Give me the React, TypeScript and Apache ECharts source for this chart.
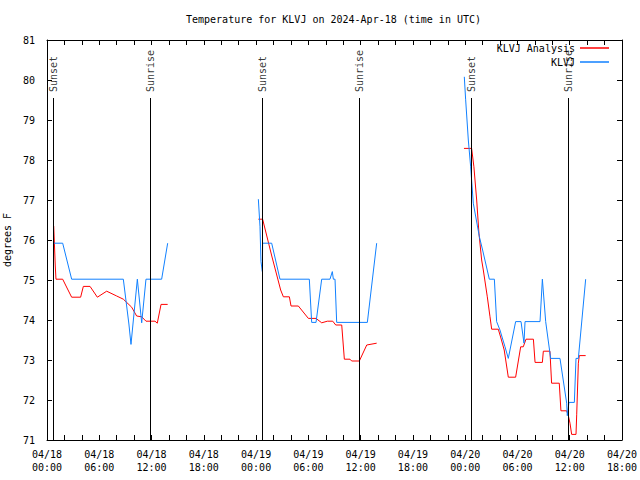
import React, { useEffect, useRef } from 'react';
import * as echarts from 'echarts';

// hours since 04/18 00:00 UTC, temperature (°F); '-' breaks the line
const analysisData: (number | string)[][] = [
  [0.77, 76.35], [0.95, 75.35], [1.03, 75.02], [1.8, 75.02], [2.3, 74.8], [2.83, 74.57], [3.86, 74.57],
  [4.17, 74.84], [4.94, 74.84], [5.78, 74.57], [6.85, 74.72], [8.0, 74.6], [8.76, 74.52], [9.72, 74.32],
  [10.29, 74.1], [10.87, 74.08], [11.36, 73.97], [12.4, 73.97], [12.66, 73.92], [13.09, 74.39], [13.85, 74.39],
  [14.5, '-'],
  [24.26, 76.52], [24.75, 76.52], [25.8, 75.6], [26.82, 74.75], [27.13, 74.58], [27.82, 74.58], [28.01, 74.35],
  [28.85, 74.35], [30.0, 74.04], [30.88, 74.04], [31.53, 73.93], [32.18, 73.97], [32.8, 73.97],
  [33.14, 73.875], [33.83, 73.875], [34.13, 73.02], [34.78, 73.02], [34.97, 72.975], [35.85, 72.975],
  [36.7, 73.375], [37.84, 73.42],
  [40, '-'],
  [47.86, 78.29], [48.74, 78.29], [49.0, 77.83], [49.32, 77.0], [49.58, 76.17], [49.89, 75.5], [50.08, 75.25],
  [50.54, 74.58], [50.85, 74.08], [51.04, 73.77], [51.8, 73.77], [52.1, 73.55], [52.48, 73.25], [52.95, 72.57],
  [53.79, 72.57], [54.37, 73.33], [54.67, 73.33], [54.98, 73.52], [55.83, 73.52], [56.02, 72.94], [56.86, 72.94],
  [56.97, 73.22], [57.73, 73.22], [57.92, 72.42], [58.8, 72.42], [58.99, 71.73], [59.65, 71.73], [59.85, 71.6],
  [60.03, 71.42], [60.22, 71.14], [60.72, 71.14], [60.8, 71.63], [60.99, 72.92], [61.1, 73.11], [61.83, 73.11],
];

const observedData: (number | string)[][] = [
  [0.77, 75.92], [1.8, 75.92], [2.83, 75.02], [8.76, 75.02], [9.4, 73.9], [9.64, 73.39], [10.37, 75.02],
  [10.87, 73.93], [11.36, 75.02], [13.16, 75.02], [13.85, 75.92],
  [14.5, '-'],
  [24.26, 77.02], [24.45, 76.33], [24.56, 75.46], [24.72, 75.21], [24.75, 75.92], [25.79, 75.92], [26.74, 75.02],
  [30.11, 75.02], [30.38, 73.94], [30.88, 73.94], [31.53, 75.02], [32.48, 75.02], [32.75, 75.21], [32.87, 75.02],
  [33.06, 75.02], [33.25, 73.94], [36.77, 73.94], [37.84, 75.92],
  [40, '-'],
  [47.9, 80.08], [48.05, 79.52], [48.36, 78.5], [48.63, 77.83], [48.93, 76.92], [49.63, 76.08], [50.0, 75.75],
  [50.77, 75.02], [51.35, 75.02], [51.61, 73.96], [51.99, 73.75], [52.57, 73.33], [52.95, 73.04], [53.79, 73.96],
  [54.41, 73.96], [54.75, 73.42], [54.87, 73.96], [56.59, 73.96], [56.86, 75.02], [57.24, 73.96], [57.81, 73.04],
  [58.88, 73.04], [59.65, 71.92], [59.72, 71.61], [59.91, 71.94], [60.53, 71.94], [60.72, 73.04], [60.99, 73.04],
  [61.83, 75.02],
];

const sunLabels = ['Sunset', 'Sunrise', 'Sunset', 'Sunrise', 'Sunset', 'Sunrise'];
const sunHours = [0.72, 11.86, 24.72, 35.85, 48.71, 59.84];

const X_MIN = 0;
const X_MAX = 66;
const Y_MIN = 71;
const Y_MAX = 81;

const FONT = "'DejaVu Sans Mono', monospace";

function xLabel(v: number): string {
  const day = 18 + Math.floor(v / 24);
  const hour = Math.round(v % 24);
  const hh = hour < 10 ? '0' + hour : '' + hour;
  return '04/' + day + '\n' + hh + ':00';
}

export default function App() {
  const ref = useRef<HTMLDivElement>(null);
  useEffect(() => {
    if (!ref.current) return;
    const chart = echarts.init(ref.current, null, { renderer: 'svg' });
    const axisLine = { show: true, onZero: false, lineStyle: { color: '#000', width: 1 } };
    const tick = { show: true, inside: true, length: 5, lineStyle: { color: '#000', width: 1 } };
    const minor = { show: true, splitNumber: 3, length: 5, lineStyle: { color: '#000', width: 1 } };
    const labelStyle = { fontFamily: FONT, fontSize: 10, color: '#000' };
    chart.setOption({
      animation: false,
      backgroundColor: '#fff',
      title: {
        text: 'Temperature for KLVJ on 2024-Apr-18 (time in UTC)',
        left: 186,
        top: 14,
        padding: 0,
        textStyle: { fontFamily: FONT, fontSize: 10, fontWeight: 'normal', color: '#000' },
      },
      legend: {
        data: ['KLVJ Analysis', 'KLVJ'],
        orient: 'vertical',
        right: 31,
        top: 43,
        padding: 0,
        align: 'right',
        icon: 'rect',
        itemWidth: 29,
        itemHeight: 1.5,
        itemGap: 4,
        textStyle: { fontFamily: FONT, fontSize: 10, color: '#000' },
      },
      grid: { left: 47, top: 40, width: 575, height: 400, outerBoundsMode: 'none', containLabel: false },
      xAxis: [
        {
          type: 'value', min: X_MIN, max: X_MAX, interval: 6, position: 'bottom',
          axisLine, axisTick: tick, minorTick: minor, splitLine: { show: false },
          axisLabel: { ...labelStyle, formatter: xLabel, lineHeight: 13, margin: 8 },
        },
        {
          type: 'value', min: X_MIN, max: X_MAX, interval: 6, position: 'top',
          axisLine, axisTick: tick, minorTick: minor, splitLine: { show: false },
          axisLabel: { show: false },
        },
      ],
      yAxis: [
        {
          type: 'value', min: Y_MIN, max: Y_MAX, interval: 1, position: 'left',
          name: 'degrees F', nameLocation: 'middle', nameGap: 28,
          nameTextStyle: { fontFamily: FONT, fontSize: 10, color: '#000' },
          axisLine, axisTick: tick, splitLine: { show: false },
          axisLabel: { ...labelStyle, margin: 12 },
        },
        {
          type: 'value', min: Y_MIN, max: Y_MAX, interval: 1, position: 'right',
          axisLine, axisTick: tick, splitLine: { show: false },
          axisLabel: { show: false },
        },
      ],
      series: [
        {
          name: 'KLVJ Analysis', type: 'line', data: analysisData, showSymbol: false, symbol: 'none',
          connectNulls: false, color: '#ff0000', lineStyle: { color: '#ff0000', width: 1 },
        },
        {
          name: 'KLVJ', type: 'line', data: observedData, showSymbol: false, symbol: 'none',
          connectNulls: false, color: '#1080ff', lineStyle: { color: '#1080ff', width: 1 },
        },
        {
          name: 'sun', type: 'scatter', symbolSize: 0, silent: true, z: 5,
          data: sunHours.map((h, i) => ({ value: [h, 79.7], name: sunLabels[i] })),
          label: {
            show: true, formatter: '{b}', position: 'inside', rotate: 90,
            align: 'left', verticalAlign: 'middle', fontFamily: FONT, fontSize: 10, color: '#000',
          },
          markLine: {
            silent: true, symbol: ['none', 'none'], label: { show: false },
            lineStyle: { color: '#000', width: 1, type: 'solid' },
            data: sunHours.map((h) => [{ coord: [h, Y_MIN] }, { coord: [h, 79.55] }]),
          },
        },
      ],
    });
    return () => chart.dispose();
  }, []);
  return <div ref={ref} style={{ position: 'fixed', left: 0, top: 0, width: 640, height: 480 }} />;
}
